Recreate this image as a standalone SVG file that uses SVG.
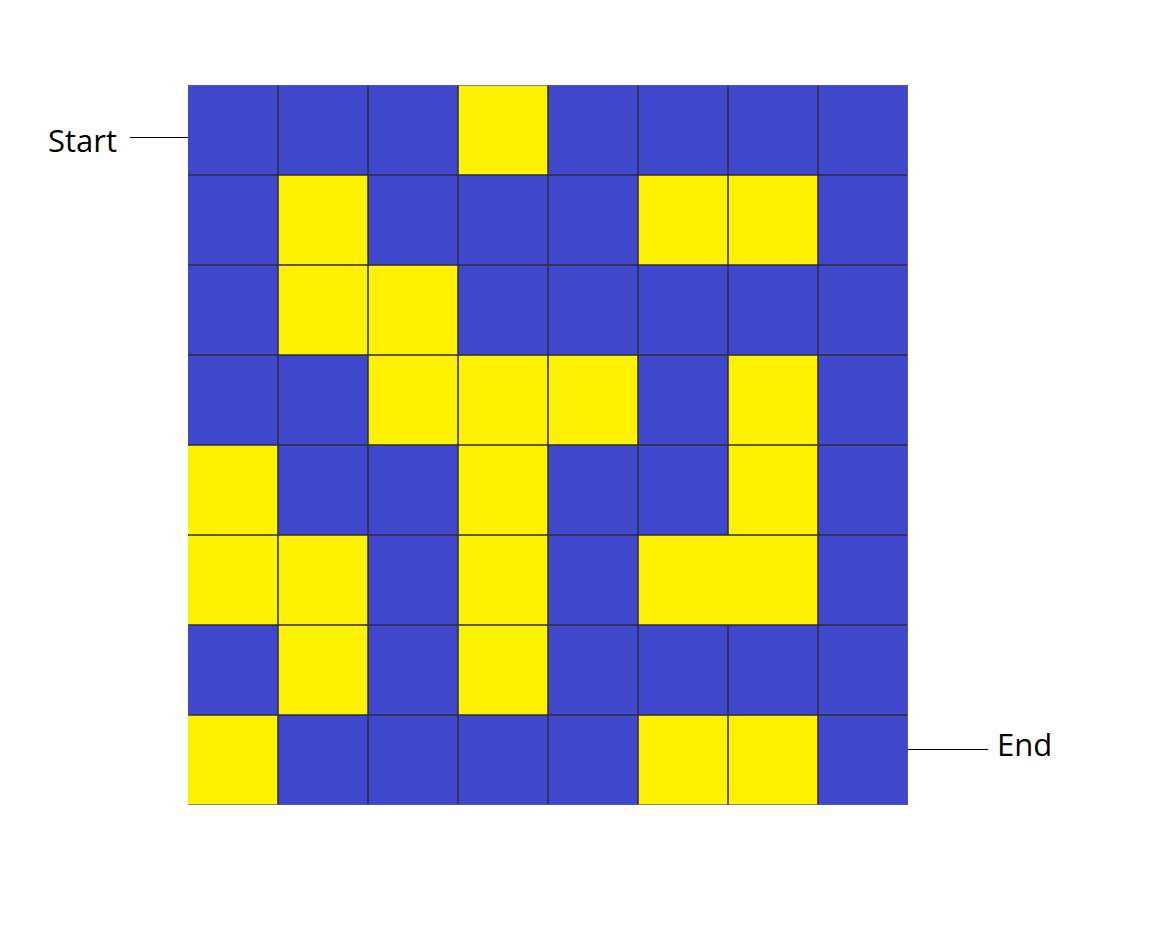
<svg xmlns="http://www.w3.org/2000/svg" width="1160" height="938" viewBox="0 0 1160 938">
<style>
.b{fill:#3f48cc}
.y{fill:#fff200}
.g{stroke:#2e2e3a;stroke-width:1.5;fill:none}
.lbl{font-family:"Open Sans","Noto Sans",sans-serif;font-size:31px;fill:#000}
.lead{stroke:#000;stroke-width:1}
</style>
<rect width="1160" height="938" fill="#fff"/>
<g id="grid">
<rect x="188" y="85" width="720" height="720" class="b"/>
<g id="yellow-cells">
<rect x="458" y="85" width="90" height="90" class="y"/>
<rect x="278" y="175" width="90" height="90" class="y"/>
<rect x="638" y="175" width="180" height="90" class="y"/>
<rect x="278" y="265" width="180" height="90" class="y"/>
<rect x="368" y="355" width="270" height="90" class="y"/>
<rect x="728" y="355" width="90" height="180" class="y"/>
<rect x="188" y="445" width="90" height="180" class="y"/>
<rect x="458" y="445" width="90" height="270" class="y"/>
<rect x="278" y="535" width="90" height="180" class="y"/>
<rect x="638" y="535" width="180" height="90" class="y"/>
<rect x="188" y="715" width="90" height="90" class="y"/>
<rect x="638" y="715" width="180" height="90" class="y"/>
</g>
<path class="g" d="M278 85V805M368 85V805M458 85V805M548 85V805M638 85V805M728 85V535M728 625V805M818 85V805M188 175H908M188 265H908M188 355H908M188 445H908M188 535H908M188 625H908M188 715H908"/>
<path d="M188 85.5H908M188 804.5H908M907.5 85V805" stroke="#5a5f9a" stroke-width="1" opacity="0.7"/>
</g>
<g id="start">
<text class="lbl" x="48" y="152">Start</text>
<line class="lead" x1="130" y1="137.5" x2="188" y2="137.5"/>
</g>
<g id="end">
<line class="lead" x1="908" y1="749.5" x2="988" y2="749.5"/>
<text class="lbl" x="997" y="756">End</text>
</g>
</svg>
